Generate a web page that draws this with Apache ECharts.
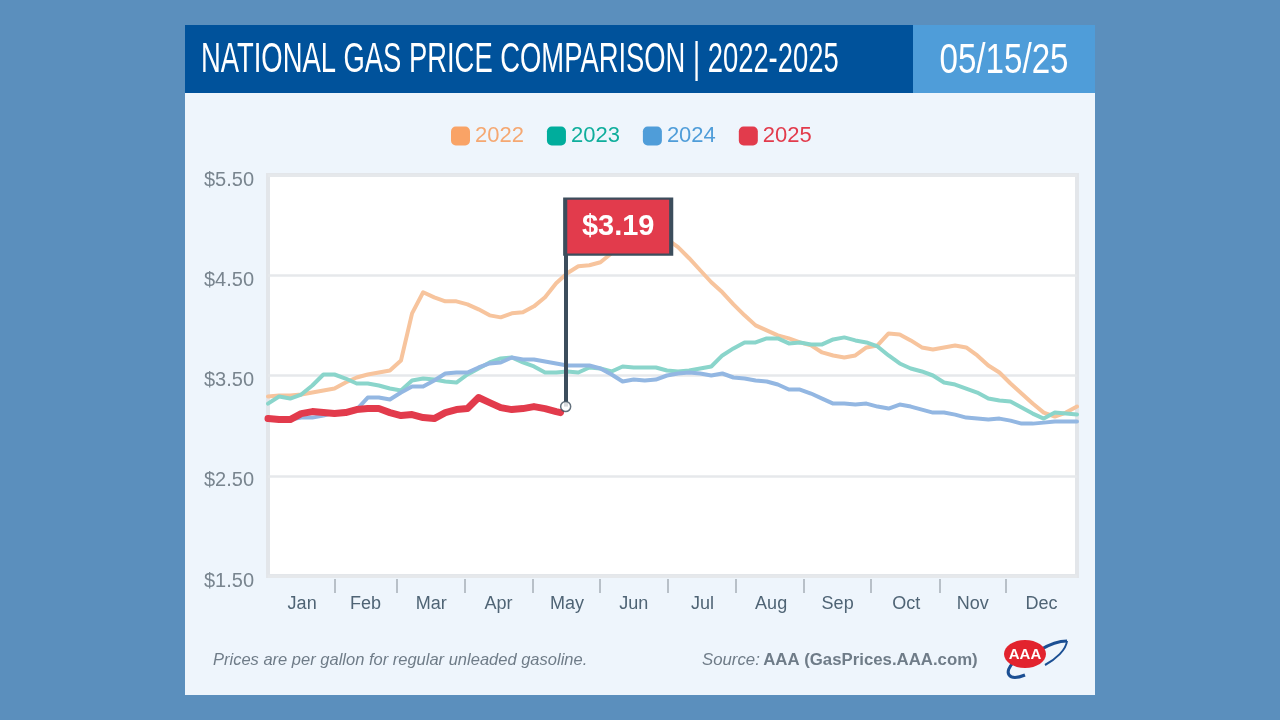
<!DOCTYPE html>
<html>
<head>
<meta charset="utf-8">
<style>
  html, body { margin: 0; padding: 0; background: #5b8fbd; }
  #main { width: 1280px; height: 720px; }
</style>
<script src="https://cdn.jsdelivr.net/npm/echarts@6/dist/echarts.min.js"></script>
</head>
<body>
<div id="main"></div>
<script>
var sans = '"Liberation Sans", sans-serif';

// day of the year, sampled every 5 days
var days = [0, 5, 10, 15, 20, 25, 30, 35, 40, 45, 50, 55, 60, 65, 70, 75, 80, 85, 90, 95,
  100, 105, 110, 115, 120, 125, 130, 135, 140, 145, 150, 155, 160, 165, 170, 175, 180, 185, 190, 195,
  200, 205, 210, 215, 220, 225, 230, 235, 240, 245, 250, 255, 260, 265, 270, 275, 280, 285, 290, 295,
  300, 305, 310, 315, 320, 325, 330, 335, 340, 345, 350, 355, 360, 365];
var days2025 = [0, 5, 10, 15, 20, 25, 30, 35, 40, 45, 50, 55, 60, 65, 70, 75, 80, 85, 90, 95,
  100, 105, 110, 115, 120, 125, 130, 132];

var prices2022 = [3.29, 3.30, 3.30, 3.31, 3.33, 3.35, 3.37, 3.43, 3.48, 3.51, 3.53, 3.55, 3.65, 4.12, 4.33, 4.28, 4.24, 4.24, 4.21, 4.16,
  4.10, 4.08, 4.12, 4.13, 4.19, 4.28, 4.42, 4.52, 4.59, 4.60, 4.63, 4.72, 4.92, 5.02, 5.00, 4.94, 4.86, 4.78, 4.67, 4.55,
  4.43, 4.33, 4.21, 4.10, 4.00, 3.95, 3.90, 3.87, 3.83, 3.80, 3.73, 3.70, 3.68, 3.70, 3.78, 3.80, 3.92, 3.91, 3.85, 3.78,
  3.76, 3.78, 3.80, 3.78, 3.70, 3.60, 3.53, 3.42, 3.32, 3.22, 3.13, 3.09, 3.13, 3.19];
var prices2023 = [3.22, 3.29, 3.27, 3.31, 3.40, 3.51, 3.51, 3.47, 3.42, 3.42, 3.40, 3.37, 3.35, 3.45, 3.47, 3.46, 3.44, 3.43, 3.51, 3.57,
  3.63, 3.67, 3.68, 3.63, 3.59, 3.53, 3.53, 3.54, 3.53, 3.58, 3.57, 3.54, 3.59, 3.58, 3.58, 3.58, 3.55, 3.54, 3.55, 3.57,
  3.59, 3.70, 3.77, 3.83, 3.83, 3.87, 3.87, 3.82, 3.83, 3.81, 3.81, 3.86, 3.88, 3.85, 3.83, 3.79, 3.70, 3.62, 3.57, 3.54,
  3.50, 3.43, 3.41, 3.37, 3.33, 3.27, 3.25, 3.24, 3.18, 3.12, 3.07, 3.13, 3.12, 3.11];
var prices2024 = [3.07, 3.06, 3.06, 3.08, 3.08, 3.10, 3.13, 3.14, 3.16, 3.28, 3.28, 3.26, 3.33, 3.39, 3.39, 3.45, 3.52, 3.53, 3.53, 3.58,
  3.62, 3.63, 3.68, 3.66, 3.66, 3.64, 3.62, 3.60, 3.60, 3.60, 3.57, 3.51, 3.44, 3.46, 3.45, 3.46, 3.50, 3.52, 3.53, 3.52,
  3.50, 3.52, 3.48, 3.47, 3.45, 3.44, 3.41, 3.36, 3.36, 3.32, 3.27, 3.22, 3.22, 3.21, 3.22, 3.19, 3.17, 3.21, 3.19, 3.16,
  3.13, 3.13, 3.11, 3.08, 3.07, 3.06, 3.07, 3.05, 3.02, 3.02, 3.03, 3.04, 3.04, 3.04];
var prices2025 = [3.07, 3.06, 3.06, 3.12, 3.14, 3.13, 3.12, 3.13, 3.16, 3.17, 3.17, 3.13, 3.10, 3.11, 3.08, 3.07, 3.13, 3.16, 3.17, 3.28,
  3.23, 3.18, 3.16, 3.17, 3.19, 3.17, 3.14, 3.13];

var flagDay = 134.3;
var flagPrice = 3.19;
var flagLabel = '$3.19';

var monthNames = ['Jan', 'Feb', 'Mar', 'Apr', 'May', 'Jun', 'Jul', 'Aug', 'Sep', 'Oct', 'Nov', 'Dec'];
var monthMids = [15.4, 44, 73.7, 104, 134.9, 165, 196, 227, 257, 288, 318, 349];
var monthEnds = [30.3, 57.9, 88.6, 119.4, 149.7, 180.5, 211, 241.7, 272, 303, 333];
var priceTicks = [1.5, 2.5, 3.5, 4.5, 5.5];

function pairs(xs, ys) {
  return xs.map(function (x, i) {
    return [x, ys[i]];
  });
}

function lineSeries(name, xs, ys, color, width, z) {
  return {
    name: name,
    type: 'line',
    data: pairs(xs, ys),
    showSymbol: false,
    z: z,
    itemStyle: { color: color },
    lineStyle: { color: color, width: width, join: 'round', cap: 'round' }
  };
}

var chart = echarts.init(document.getElementById('main'));

var option = {
  animation: false,
  backgroundColor: '#5b8fbd',
  textStyle: { fontFamily: sans },
  legend: {
    top: 120,
    left: 446,
    itemWidth: 19,
    itemHeight: 19,
    itemGap: 23,
    icon: 'roundRect',
    textStyle: { fontSize: 22, fontFamily: sans },
    data: [
      { name: '2022', itemStyle: { color: '#f9a366' }, textStyle: { color: '#f5a872' } },
      { name: '2023', itemStyle: { color: '#00ad9c' }, textStyle: { color: '#0fae9c' } },
      { name: '2024', itemStyle: { color: '#4f9dd9' }, textStyle: { color: '#4f9dd9' } },
      { name: '2025', itemStyle: { color: '#e23b4c' }, textStyle: { color: '#e23b4c' } }
    ]
  },
  grid: {
    left: 268,
    right: 203,
    top: 175,
    bottom: 144,
    show: true,
    backgroundColor: '#fff',
    borderColor: '#e3e6ea',
    borderWidth: 4
  },
  xAxis: {
    type: 'value',
    min: 0,
    max: 365,
    offset: 3,
    axisLine: { show: false },
    axisTick: { show: true, customValues: monthEnds, length: 14, lineStyle: { color: '#b8c0c8', width: 2 } },
    splitLine: { show: false },
    axisLabel: {
      customValues: monthMids,
      margin: 16,
      fontSize: 18,
      fontFamily: sans,
      color: '#4f6475',
      formatter: function (value) {
        return monthNames[monthMids.indexOf(value)];
      }
    }
  },
  yAxis: {
    type: 'value',
    min: 1.5,
    max: 5.5,
    axisLine: { show: false },
    axisTick: { show: false, customValues: priceTicks },
    splitLine: { show: true, lineStyle: { color: '#e6e8eb', width: 2.5 } },
    axisLabel: {
      customValues: priceTicks,
      margin: 14,
      verticalAlign: 'top',
      lineHeight: 10,
      fontSize: 20,
      fontFamily: sans,
      color: '#79858f',
      formatter: function (value) {
        return '$' + value.toFixed(2);
      }
    }
  },
  series: [
    lineSeries('2022', days, prices2022, '#f7c49d', 4, 2),
    lineSeries('2023', days, prices2023, '#8ad5cb', 4, 3),
    lineSeries('2024', days, prices2024, '#93b7e2', 4, 4),
    lineSeries('2025', days2025, prices2025, '#e23b4c', 7, 5),
    {
      name: 'flag',
      type: 'scatter',
      z: 10,
      silent: true,
      symbol: 'circle',
      symbolSize: 10,
      itemStyle: { color: '#fff', borderColor: '#3c4d5c', borderWidth: 1.5 },
      data: [[flagDay, flagPrice]],
      markLine: {
        silent: true,
        symbol: 'none',
        z: 9,
        lineStyle: { color: '#3c4d5c', width: 4, type: 'solid' },
        label: { show: false },
        data: [[{ coord: [flagDay, flagPrice] }, { coord: [flagDay, 5.25] }]]
      },
      markPoint: {
        silent: true,
        z: 11,
        symbol: 'rect',
        symbolSize: [106, 56],
        itemStyle: { color: '#e23b4c', borderColor: '#3c4d5c', borderWidth: 3 },
        label: { show: true, color: '#fff', fontSize: 29, fontWeight: 'bold', fontFamily: sans, formatter: flagLabel },
        data: [{ coord: [158, 4.985] }]
      }
    }
  ],
  graphic: [
    { type: 'rect', z: -10, silent: true, shape: { x: 185, y: 25, width: 910, height: 670 }, style: { fill: '#eef5fc' } },
    { type: 'rect', z: -9, silent: true, shape: { x: 185, y: 25, width: 728, height: 68 }, style: { fill: '#00529b' } },
    { type: 'rect', z: -9, silent: true, shape: { x: 913, y: 25, width: 182, height: 68 }, style: { fill: '#4f9dd9' } },
    {
      type: 'text', x: 201, y: 60, scaleX: 0.652, silent: true,
      style: { text: 'NATIONAL GAS PRICE COMPARISON | 2022-2025', fill: '#fff', font: '42px ' + sans, verticalAlign: 'middle' }
    },
    {
      type: 'text', x: 1004, y: 61, scaleX: 0.79, silent: true,
      style: { text: '05/15/25', fill: '#fff', font: '42px ' + sans, align: 'center', verticalAlign: 'middle' }
    },
    {
      type: 'text', x: 213, y: 660, silent: true,
      style: { text: 'Prices are per gallon for regular unleaded gasoline.', fill: '#6f7c88', font: 'italic 16.5px ' + sans, verticalAlign: 'middle' }
    },
    {
      type: 'text', x: 702, y: 660, silent: true,
      style: {
        text: '{a|Source:} {b|AAA (GasPrices.AAA.com)}',
        verticalAlign: 'middle',
        rich: {
          a: { fill: '#6f7c88', font: 'italic 16.8px ' + sans },
          b: { fill: '#6f7c88', font: 'bold 16.8px ' + sans }
        }
      }
    },
    // logo
    { type: 'bezierCurve', silent: true, shape: { x1: 1040, y1: 650, x2: 1067, y2: 641, cpx1: 1050, cpy1: 644, cpx2: 1060, cpy2: 641 }, style: { stroke: '#1b4f93', fill: 'none', lineWidth: 3 } },
    { type: 'bezierCurve', silent: true, shape: { x1: 1067, y1: 641, x2: 1045, y2: 665, cpx1: 1066, cpy1: 650, cpx2: 1056, cpy2: 659 }, style: { stroke: '#1b4f93', fill: 'none', lineWidth: 2 } },
    { type: 'bezierCurve', silent: true, shape: { x1: 1014, y1: 662, x2: 1025, y2: 675, cpx1: 1003, cpy1: 672, cpx2: 1008, cpy2: 682 }, style: { stroke: '#1b4f93', fill: 'none', lineWidth: 3 } },
    { type: 'ellipse', silent: true, shape: { cx: 1025, cy: 654, rx: 21, ry: 14 }, style: { fill: '#e2232e' } },
    {
      type: 'text', x: 1025, y: 655, silent: true,
      style: { text: 'AAA', fill: '#fff', font: 'bold 15px ' + sans, align: 'center', verticalAlign: 'middle' }
    }
  ]
};

chart.setOption(option);
</script>
</body>
</html>
